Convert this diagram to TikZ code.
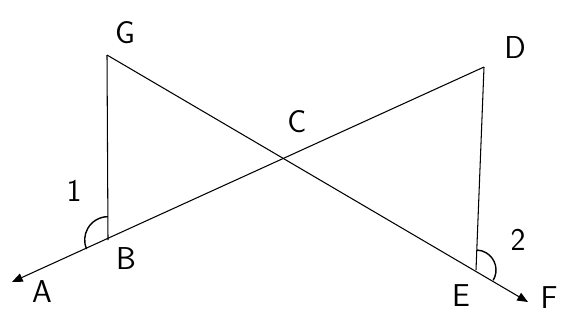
\documentclass[tikz,border=0pt]{standalone}
\usepackage{tikz}
\usetikzlibrary{arrows.meta, positioning}
\tikzset{
  seg/.style = {draw=black, line width=0.9pt},
  ray/.style = {seg, -{Triangle[length=3.2mm, width=2.6mm]}},
  anglemark/.style = {draw=black, line width=1.2pt},
  lbl/.style = {font=\sffamily\fontsize{27}{29}\selectfont, inner sep=1pt}
}
\begin{document}
\begin{tikzpicture}[x=0.03cm, y=-0.03cm]
\useasboundingbox (0,0) rectangle (564,322);
% points of the figure
\coordinate (G) at (107,55);
\coordinate (B) at (108,240);
\coordinate (D) at (484,67);
\coordinate (E) at (476,270);
\coordinate (A) at (12,282);
\coordinate (F) at (528,302);
\coordinate (C) at (287,158);

% lines
\draw[seg] (G) -- (B);
\draw[seg] (D) -- (E);
\draw[ray] (G) -- (F);
\draw[ray] (D) -- (A);

% angles 1 and 2
\draw[anglemark] ([shift={(90:0.7cm)}]B) arc[start angle=90, end angle=203, radius=0.7cm];
\draw[anglemark] ([shift={(-31:0.6cm)}]E) arc[start angle=-31, end angle=87, radius=0.6cm];

% labels
\node[lbl] (labG) at (125,33) {G};
\node[lbl] (labD) at (515,48) {D};
\node[lbl] (labC) at (297,122) {C};
\node[lbl] (labB) at (126,259) {B};
\node[lbl] (labA) at (42,292) {A};
\node[lbl] (labE) at (461,296) {E};
\node[lbl] (labF) at (549,298) {F};
\node[lbl] (lab1) at (74,191) {1};
\node[lbl] (lab2) at (518,240) {2};
\end{tikzpicture}
\end{document}
